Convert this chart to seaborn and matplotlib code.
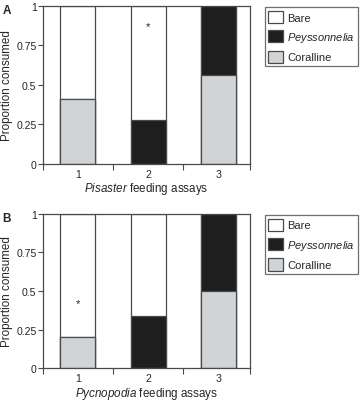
import matplotlib
matplotlib.use("Agg")
import matplotlib.pyplot as plt
from matplotlib.patches import Patch
import seaborn as sns
import pandas as pd

assays = ["1", "2", "3"]
predators = ["Pisaster", "Pycnopodia"]
panels = ["A", "B"]

# proportion consumed per substrate, one list per predator
coralline = {"Pisaster": [0.41, 0.0, 0.56], "Pycnopodia": [0.20, 0.0, 0.50]}
peyssonnelia = {"Pisaster": [0.0, 0.28, 0.44], "Pycnopodia": [0.0, 0.34, 0.50]}
bare = {"Pisaster": [0.59, 0.72, 0.0], "Pycnopodia": [0.80, 0.66, 0.0]}

# significance asterisks: (assay index, height)
stars = {"Pisaster": (1, 0.87), "Pycnopodia": (0, 0.42)}

colors = {"Bare": "white", "Peyssonnelia": "#1e1e1e", "Coralline": "#d1d4d6"}
edge = "#4a4a4a"
tfs = 7.6   # tick labels
afs = 8.4   # axis labels
lfs = 8     # legend

sns.set_style("ticks")
plt.rcParams["font.family"] = ["Liberation Sans", "DejaVu Sans"]
plt.rcParams["mathtext.fontset"] = "custom"
plt.rcParams["mathtext.rm"] = "Liberation Sans"
plt.rcParams["mathtext.it"] = "Liberation Sans:italic"

fig = plt.figure(figsize=(3.6, 4.02), dpi=100)
boxes = [[0.119, 0.59, 0.575, 0.393], [0.119, 0.081, 0.575, 0.385]]

for pred, letter, box in zip(predators, panels, boxes):
    ax = fig.add_axes(box)
    df = pd.DataFrame({
        "assay": assays,
        "cor": coralline[pred],
        "pey": peyssonnelia[pred],
        "bar": bare[pred],
    })
    df["top"] = df["cor"] + df["pey"] + df["bar"]
    df["mid"] = df["cor"] + df["pey"]

    # layered cumulative bars give the stacked look
    for col, c in [("top", colors["Bare"]), ("mid", colors["Peyssonnelia"]), ("cor", colors["Coralline"])]:
        sns.barplot(data=df, x="assay", y=col, color=c, width=0.5,
                    edgecolor=edge, linewidth=0.9, saturation=1, ax=ax)

    si, sy = stars[pred]
    ax.text(si, sy, "*", ha="center", va="center", fontsize=8, color="#222")

    ax.set_xlim(-0.5, 2.45)
    ax.set_ylim(0, 1)
    ax.set_yticks([0, 0.25, 0.5, 0.75, 1])
    ax.set_yticklabels(["0", "0.25", "0.5", "0.75", "1"])
    ax.set_xticks([-0.5, 0.5, 1.5, 2.45], minor=True)
    ax.tick_params(axis="x", which="major", length=0, labelsize=tfs, pad=3.5)
    ax.tick_params(axis="x", which="minor", length=4, width=0.8, color=edge)
    ax.tick_params(axis="y", length=3.5, width=0.8, color=edge, labelsize=tfs, pad=1)
    for s in ax.spines.values():
        s.set_visible(True)
        s.set_color(edge)
        s.set_linewidth(0.9)

    ax.set_ylabel("Proportion consumed", fontsize=afs, labelpad=2)
    ax.set_xlabel(r"$\it{" + pred + "}$ feeding assays", fontsize=afs, labelpad=1)
    ax.text(-0.195, 1.01, letter, transform=ax.transAxes, fontsize=8.5,
            fontweight="bold", va="top", ha="left")

    handles = [Patch(facecolor=colors[k], edgecolor=edge, linewidth=0.9) for k in colors]
    names = ["Bare", r"$\it{Peyssonnelia}$", "Coralline"]
    leg = ax.legend(handles, names, loc="upper left", bbox_to_anchor=(1.072, 0.99),
                    fontsize=lfs, frameon=True, fancybox=False, edgecolor=edge,
                    handlelength=1.35, handleheight=1.35, handletextpad=0.36,
                    labelspacing=0.6, borderpad=0.3, borderaxespad=0)
    leg.get_frame().set_linewidth(0.9)

fig.savefig("out.png", dpi=100)
